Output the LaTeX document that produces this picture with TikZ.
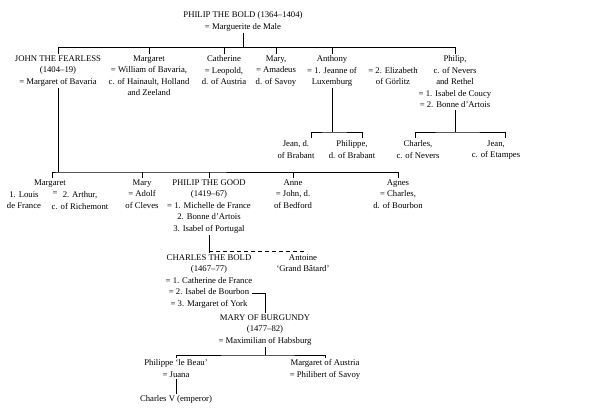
\documentclass[tikz,border=0pt]{standalone}
\usepackage{fontspec}
\setmainfont{Liberation Serif}
\tikzset{
    person/.style={align=center, anchor=north, inner sep=1.5pt,
        font=\fontsize{8.7}{11.5}\selectfont},
    line/.style={draw=black, line width=0.7pt},
    bastard/.style={draw=black, line width=0.7pt, dash pattern=on 4pt off 3pt}
}
\begin{document}
\begin{tikzpicture}[x=1pt, y=-1pt]
\useasboundingbox (0,0) rectangle (609,412);
% first generation
\node[person] (bold) at (243,10) {PHILIP THE BOLD (1364--1404)\\= Marguerite de Male};
\node[person] (john) at (58,54) {JOHN THE FEARLESS\\(1404--19)\\= Margaret of Bavaria};
\node[person] (marg) at (149,54) {Margaret\\= William of Bavaria,\\c. of Hainault, Holland\\and Zeeland};
\node[person] (cath) at (224,54) {Catherine\\= Leopold,\\d. of Austria};
\node[person] (mary) at (276,54) {Mary,\\= Amadeus\\d. of Savoy};
\node[person] (anth) at (332,54) {Anthony\\= 1. Jeanne of\\Luxemburg};
\node[person] (eliz) at (393,65.5) {= 2. Elizabeth\\of G\"orlitz};
\node[person] (phil) at (455,54) {Philip,\\c. of Nevers\\and Rethel\\= 1. Isabel de Coucy\\= 2. Bonne d'Artois};
\coordinate (bar1) at (243,47);
\draw[line] (bold.south) -- (bar1);
\draw[line] (john.north) -- ++(0,-7) -| (phil.north);
\foreach \n in {marg,cath,mary,anth}
  \draw[line] (\n.north) -- ++(0,-7);
% children of Anthony and Philip
\node[person] (jean) at (296,139) {Jean, d.\\of Brabant};
\node[person] (phpe) at (352,139) {Philippe,\\d. of Brabant};
\node[person] (chne) at (418,139) {Charles,\\c. of Nevers};
\node[person] (jeet) at (496,139) {Jean,\\c. of Etampes};
\draw[line] (anth.south) -- (332,132);
\draw[line] (311,138) |- (332,132) -| (362,138);
\draw[line] (phil.south) -- (455,132);
\draw[line] (415,138) |- (455,132) -| (505,138);
% children of John the Fearless
\node[person] (mgt) at (50,178) {Margaret};
\node[person] (louis) at (24,190) {1. Louis\\de France};
\node[person] (eq) at (55,190) {=};
\node[person] (arth) at (80,190) {2. Arthur,\\c. of Richemont};
\node[person] (mry) at (142,178) {Mary\\= Adolf\\of Cleves};
\node[person] (good) at (209,178) {PHILIP THE GOOD\\(1419--67)\\= 1. Michelle de France\\2. Bonne d'Artois\\3. Isabel of Portugal};
\node[person] (anne) at (293,178) {Anne\\= John, d.\\of Bedford};
\node[person] (agn) at (398,178) {Agnes\\= Charles,\\d. of Bourbon};
\coordinate (bar2) at (58,172);
\draw[line] (john.south) -- (bar2);
\draw[line] (52,178) |- (bar2) -| (agn.north);
\foreach \n in {mry,good,anne}
  \draw[line] (\n.north) -- ++(0,-6);
% Charles the Bold and Antoine
\node[person] (chb) at (209,253) {CHARLES THE BOLD\\(1467--77)\\= 1. Catherine de France\\= 2. Isabel de Bourbon\hspace{20pt}\\= 3. Margaret of York};
\node[person] (ant) at (303,253) {Antoine\\`Grand B\^atard'};
\coordinate (dash) at (209,251);
\draw[line] (good.south) -- (chb.north);
\draw[bastard] (dash) -| (ant.north);
% Mary of Burgundy
\node[person] (mob) at (265,313) {MARY OF BURGUNDY\\(1477--82)\\= Maximilian of Habsburg};
\draw[line] (252,293) -| (mob.north);
\node[person] (phb) at (176,358) {Philippe `le Beau'\\= Juana};
\node[person] (mga) at (325,358) {Margaret of Austria\\= Philibert of Savoy};
\node[person] (chv) at (176,394) {Charles V (emperor)};
\draw[line] (mob.south) -- (265,355);
\draw[line] (phb.north) |- (265,355) -| (mga.north);
\draw[line] (phb.south) -- (chv.north);
\end{tikzpicture}
\end{document}
